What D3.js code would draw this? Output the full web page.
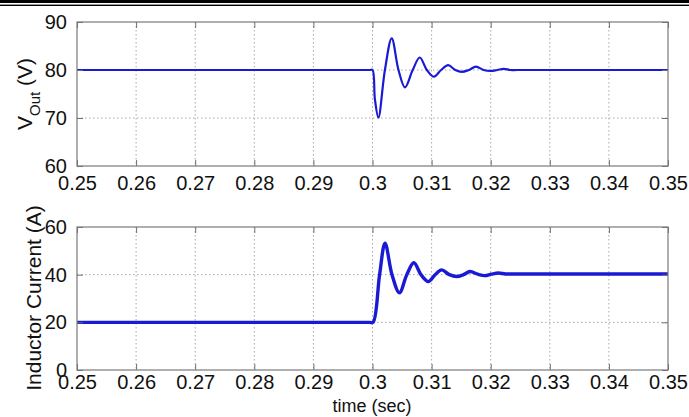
<!DOCTYPE html>
<html>
<head>
<meta charset="utf-8">
<script src="https://cdn.jsdelivr.net/npm/d3@7"></script>
<style>
  html, body { margin: 0; padding: 0; background: #fff; }
  svg { display: block; font-family: "Liberation Sans", Arial, sans-serif; }
</style>
</head>
<body>
<svg id="chart" width="689" height="417"></svg>
<script>
// Time axis (seconds)
const timeTicks = [0.25, 0.26, 0.27, 0.28, 0.29, 0.30, 0.31, 0.32, 0.33, 0.34, 0.35];
const timeTickLabels = ["0.25", "0.26", "0.27", "0.28", "0.29", "0.3", "0.31", "0.32", "0.33", "0.34", "0.35"];

// Output voltage response to the load step at t = 0.3 s
const voutTime = [0.25, 0.2995, 0.3000, 0.3004, 0.3010, 0.3021, 0.30325, 0.3044, 0.3055, 0.3068, 0.3080, 0.3092,
                  0.3104, 0.3116, 0.3128, 0.3140, 0.3151, 0.3163, 0.3175, 0.3188, 0.3200, 0.3211,
                  0.3222, 0.3233, 0.3245, 0.35];
const voutValue = [80, 80, 80, 74.0, 70.1, 80, 86.6, 80, 76.4, 80, 82.6, 80,
                   78.6, 80, 81.0, 80, 79.6, 80, 80.7, 80, 79.8, 80,
                   80.25, 80, 80, 80];
const voutTicks = [60, 70, 80, 90];

// Inductor current response
const iLTime = [0.25, 0.2995, 0.3001, 0.3012, 0.30212, 0.3033, 0.30455, 0.3058, 0.3070, 0.3082, 0.30945,
                0.3106, 0.3117, 0.3130, 0.31425, 0.3154, 0.3165, 0.3178, 0.3190, 0.3201, 0.3213,
                0.3225, 0.3240, 0.35];
const iLValue = [20, 20, 20, 40, 53.2, 40, 32.4, 40, 45.0, 40, 37.1,
                 40, 42.0, 40, 39.2, 40, 41.3, 40.2, 39.6, 40.2, 40.7,
                 40.3, 40.3, 40.3];
const iLTicks = [0, 20, 40, 60];

const svg = d3.select("#chart");

// Double rule across the top of the page
svg.append("rect").attr("x", 0).attr("y", 0).attr("width", 689).attr("height", 3).attr("fill", "#000");
svg.append("rect").attr("x", 0).attr("y", 4.6).attr("width", 689).attr("height", 1.4).attr("fill", "#000");

const left = 77, right = 668;
const x = d3.scaleLinear().domain([0.25, 0.35]).range([left, right]);

function panel(top, bottom, domain, yTicks, times, values, strokeW, xPad) {
  const y = d3.scaleLinear().domain(domain).range([bottom, top]);
  const g = svg.append("g");

  // dotted grid
  g.selectAll("line.gx").data(timeTicks.slice(1, -1)).enter().append("line")
    .attr("x1", d => x(d)).attr("x2", d => x(d)).attr("y1", top).attr("y2", bottom)
    .attr("stroke", "#a8a8a8").attr("stroke-width", 1).attr("stroke-dasharray", "1.5,2.5");
  g.selectAll("line.gy").data(yTicks.slice(1, -1)).enter().append("line")
    .attr("y1", d => y(d)).attr("y2", d => y(d)).attr("x1", left).attr("x2", right)
    .attr("stroke", "#a8a8a8").attr("stroke-width", 1).attr("stroke-dasharray", "1.5,2.5");

  // waveform
  const pts = times.map((t, i) => [t, values[i]]);
  g.append("path").datum(pts)
    .attr("fill", "none").attr("stroke", "#1a1ad4").attr("stroke-width", strokeW)
    .attr("stroke-linejoin", "round")
    .attr("d", d3.line().x(d => x(d[0])).y(d => y(d[1])).curve(d3.curveCatmullRom.alpha(0.5)));

  // axes: ticks inside on all four sides
  const tl = 6;
  const xb = d3.axisBottom(x).tickValues(timeTicks).tickSizeInner(-tl).tickSizeOuter(0)
    .tickFormat((d, i) => timeTickLabels[i]).tickPadding(xPad);
  const xt = d3.axisTop(x).tickValues(timeTicks).tickSizeInner(-tl).tickSizeOuter(0).tickFormat("");
  const yl = d3.axisLeft(y).tickValues(yTicks).tickSizeInner(-tl).tickSizeOuter(0).tickPadding(10);
  const yr = d3.axisRight(y).tickValues(yTicks).tickSizeInner(-tl).tickSizeOuter(0).tickFormat("");

  const ax = [
    g.append("g").attr("transform", `translate(0,${bottom})`).call(xb),
    g.append("g").attr("transform", `translate(0,${top})`).call(xt),
    g.append("g").attr("transform", `translate(${left},0)`).call(yl),
    g.append("g").attr("transform", `translate(${right},0)`).call(yr)
  ];
  ax.forEach(a => {
    a.select(".domain").remove();
    a.selectAll("line").attr("stroke", "#6f6f6f");
    a.selectAll("text").attr("fill", "#111").style("font-size", "20px")
      .style("font-family", "'Liberation Sans', Arial, sans-serif");
  });
  g.append("rect").attr("x", left).attr("y", top).attr("width", right - left).attr("height", bottom - top)
    .attr("fill", "none").attr("stroke", "#7a7a7a").attr("stroke-width", 1.2);
  return y;
}

panel(22, 166, [60, 90], voutTicks, voutTime, voutValue, 2.2, 10);
panel(227, 370, [0, 60], iLTicks, iLTime, iLValue, 3.4, 5);

// y-axis titles
const vLab = svg.append("text")
  .attr("transform", "translate(32,94) rotate(-90)")
  .attr("text-anchor", "middle").attr("fill", "#111").style("font-size", "21px");
vLab.append("tspan").text("V");
vLab.append("tspan").text("Out").attr("dy", 8).style("font-size", "15px");
vLab.append("tspan").text(" (V)").attr("dy", -8);

svg.append("text")
  .attr("transform", "translate(41,298) rotate(-90)")
  .attr("text-anchor", "middle").attr("fill", "#111").style("font-size", "21px")
  .text("Inductor Current (A)");

// x-axis title
svg.append("text").attr("x", 372).attr("y", 412)
  .attr("text-anchor", "middle").attr("fill", "#111").style("font-size", "18px")
  .text("time (sec)");
</script>
</body>
</html>
